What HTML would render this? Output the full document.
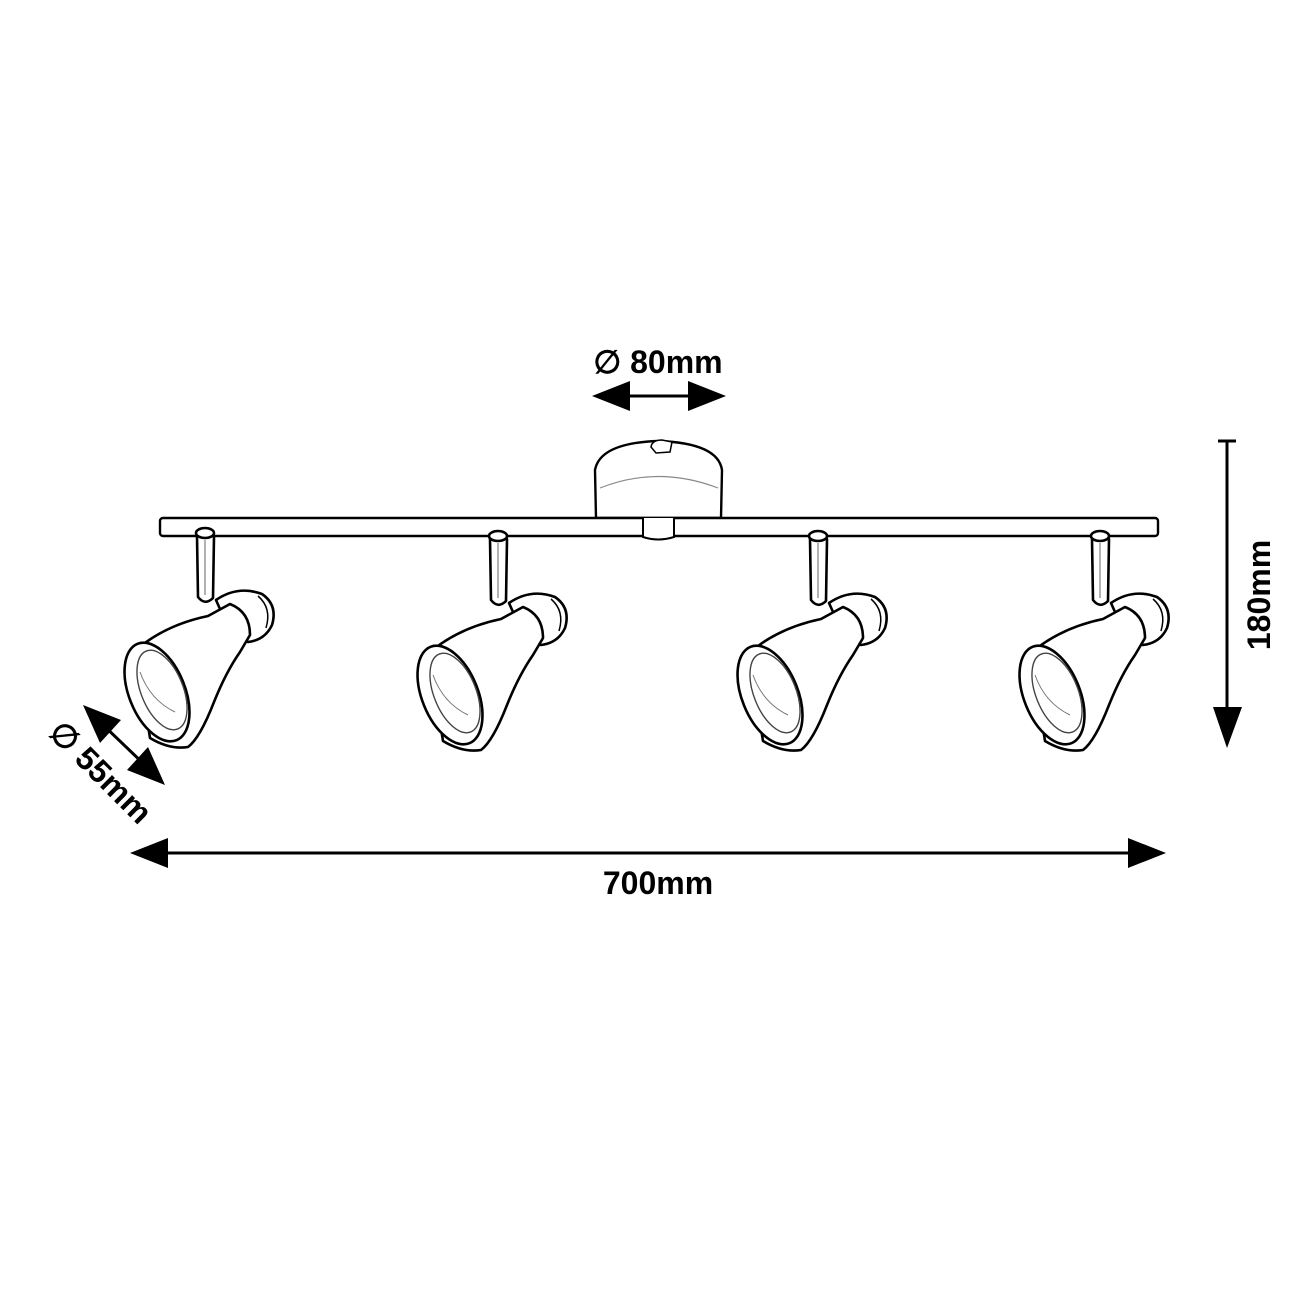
<!DOCTYPE html>
<html><head><meta charset="utf-8"><style>
html,body{margin:0;padding:0;background:#fff;}
svg{display:block;}
text{font-family:"Liberation Sans",sans-serif;font-weight:bold;fill:#000;}
</style></head><body>
<svg width="1316" height="1316" viewBox="0 0 1316 1316" xmlns="http://www.w3.org/2000/svg">
<defs>
<g id="lamp" fill="#fff" stroke="#000" stroke-width="2.6" stroke-linejoin="round">
  <path d="M197,536 L198,597 Q205,606 213,598 L214,536 Z"/>
  <line x1="205" y1="540" x2="205" y2="595" stroke-width="1" stroke="#666"/>
  <ellipse cx="205" cy="533" rx="9" ry="5"/>
  <path d="M216,600 Q238,585 262,594 Q278,605 272,625 Q265,640 248,642 L232,636 Z"/>
  <path d="M258,596 Q272,608 266,628" fill="none" stroke-width="1.5"/>
  <path d="M136,650 Q165,625 208,616 L230,604 Q250,612 250,635 L240,652 Q226,672 214,702 Q200,738 188,747 Q170,750 150,738 Z"/>
  <ellipse cx="157" cy="692" rx="28" ry="52" transform="rotate(-22 157 692)"/>
  <ellipse cx="162" cy="690" rx="21" ry="42" transform="rotate(-22 162 690)" stroke-width="1.4" stroke="#444"/>
  <path d="M140,672 Q150,700 175,712" fill="none" stroke-width="1" stroke="#777"/>
</g>
</defs>

<path d="M596,518 L595,470 Q600,443 658,441 Q718,443 722,470 L721,518 Z" fill="#fff" stroke="#000" stroke-width="2.4"/>
<path d="M600,488 Q658,465 718,488" fill="none" stroke="#888" stroke-width="1.2"/>
<path d="M651,447 Q652,440 662,440 L672,442 L670,452 L656,453 Z" fill="#fff" stroke="#000" stroke-width="1.5"/>
<rect x="160" y="518" width="998" height="18" rx="3" fill="#fff" stroke="#000" stroke-width="2.4"/>
<path d="M643,518 L643,537 Q658,542 674,537 L674,518" fill="#fff" stroke="#000" stroke-width="2"/>

<use href="#lamp"/>
<use href="#lamp" transform="translate(293,3)"/>
<use href="#lamp" transform="translate(613,3)"/>
<use href="#lamp" transform="translate(895,3)"/>

<g fill="#000" stroke="#000">
  <line x1="620" y1="396" x2="700" y2="396" stroke-width="3"/>
  <polygon points="592,396 630,381 630,411" stroke="none"/>
  <polygon points="726,396 688,381 688,411" stroke="none"/>
  <line x1="1227" y1="441" x2="1227" y2="712" stroke-width="3"/>
  <line x1="1218" y1="441" x2="1236" y2="441" stroke-width="3"/>
  <polygon points="1213,707 1242,707 1227,748" stroke="none"/>
  <line x1="160" y1="853" x2="1135" y2="853" stroke-width="3"/>
  <polygon points="130,853 168,838 168,868" stroke="none"/>
  <polygon points="1166,853 1128,838 1128,868" stroke="none"/>
  <line x1="100" y1="722" x2="148" y2="768" stroke-width="3"/>
  <polygon points="83,705 121,720 100,743" stroke="none"/>
  <polygon points="165,785 127,770 148,747" stroke="none"/>
</g>

<text x="658" y="373" font-size="32" text-anchor="middle">∅ 80mm</text>
<text x="658" y="894" font-size="32" text-anchor="middle">700mm</text>
<text transform="translate(1270,595) rotate(-90)" font-size="32" text-anchor="middle">180mm</text>
<text transform="translate(93,780) rotate(45)" font-size="32" text-anchor="middle">∅ 55mm</text>
</svg>
</body></html>
